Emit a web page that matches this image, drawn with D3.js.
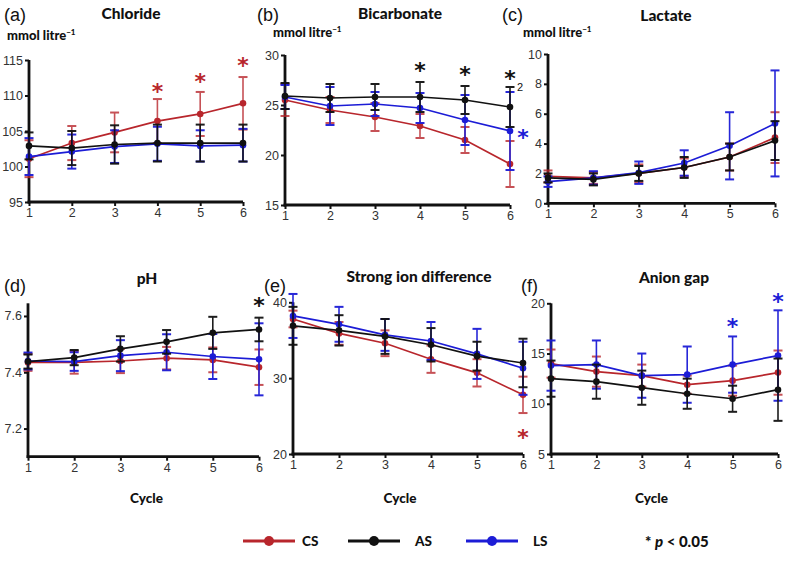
<!DOCTYPE html>
<html><head><meta charset="utf-8">
<script src="https://cdn.jsdelivr.net/npm/d3@7"></script>
<style>
html,body{margin:0;padding:0;background:#fff;}
svg{display:block;}
</style></head>
<body>
<svg id="chart" width="789" height="563"></svg>
<script>
// ---------- DATA ----------
const cycles = [1, 2, 3, 4, 5, 6];
const seriesNames = ["CS", "AS", "LS"];

const chlorideCS = [101.1, 103.3, 104.8, 106.4, 107.4, 108.9];
const chlorideCSsd = [2.6, 2.4, 2.8, 3.1, 3.1, 3.7];
const chlorideAS = [102.9, 102.6, 103.1, 103.3, 103.3, 103.3];
const chlorideASsd = [1.9, 2.4, 2.7, 2.6, 2.6, 2.6];
const chlorideLS = [101.4, 102.1, 102.8, 103.2, 102.9, 103.0];
const chlorideLSsd = [2.6, 2.4, 2.3, 2.4, 2.2, 2.3];

const bicarbCS = [25.5, 24.5, 23.8, 22.9, 21.5, 19.1];
const bicarbCSsd = [1.6, 1.3, 1.4, 1.2, 1.3, 2.3];
const bicarbAS = [25.9, 25.7, 25.8, 25.8, 25.5, 24.8];
const bicarbASsd = [1.3, 1.4, 1.3, 1.5, 1.4, 2.0];
const bicarbLS = [25.8, 24.9, 25.1, 24.7, 23.5, 22.4];
const bicarbLSsd = [1.2, 1.9, 1.2, 1.5, 2.5, 3.9];

const lactateCS = [1.8, 1.7, 2.0, 2.4, 3.1, 4.4];
const lactateCSsd = [0.4, 0.4, 0.6, 0.6, 0.9, 1.7];
const lactateAS = [1.7, 1.6, 2.0, 2.4, 3.1, 4.2];
const lactateASsd = [0.3, 0.4, 0.5, 0.7, 0.9, 1.3];
const lactateLS = [1.45, 1.7, 2.05, 2.7, 3.85, 5.35];
const lactateLSsd = [0.35, 0.45, 0.75, 0.85, 2.25, 3.55];

const phCS = [7.435, 7.435, 7.44, 7.45, 7.444, 7.418];
const phCSsd = [0.03, 0.04, 0.043, 0.04, 0.044, 0.063];
const phAS = [7.438, 7.452, 7.483, 7.508, 7.54, 7.552];
const phASsd = [0.025, 0.027, 0.045, 0.042, 0.057, 0.042];
const phLS = [7.44, 7.438, 7.459, 7.471, 7.456, 7.446];
const phLSsd = [0.03, 0.033, 0.055, 0.064, 0.08, 0.128];

const sidCS = [37.8, 35.9, 34.6, 32.5, 30.7, 27.8];
const sidCSsd = [1.1, 1.5, 1.7, 1.8, 1.8, 2.4];
const sidAS = [36.9, 36.3, 35.5, 34.4, 32.9, 32.0];
const sidASsd = [2.5, 2.0, 2.3, 2.2, 1.9, 3.2];
const sidLS = [38.2, 37.1, 35.7, 34.9, 33.2, 31.3];
const sidLSsd = [2.9, 2.3, 2.1, 2.5, 3.3, 3.5];

const agapCS = [14.0, 13.2, 12.8, 11.9, 12.3, 13.1];
const agapCSsd = [1.4, 1.5, 1.1, 0.9, 1.5, 2.2];
const agapAS = [12.5, 12.2, 11.6, 11.0, 10.5, 11.4];
const agapASsd = [1.8, 1.7, 1.7, 1.5, 1.3, 3.1];
const agapLS = [13.8, 13.9, 12.8, 12.9, 13.9, 14.8];
const agapLSsd = [2.5, 2.4, 2.2, 2.8, 2.8, 4.5];

const chlorideTicks = [95, 100, 105, 110, 115];
const bicarbTicks = [15, 20, 25, 30];
const lactateTicks = [0, 2, 4, 6, 8, 10];
const phTicks = [7.2, 7.4, 7.6];
const sidTicks = [20, 30, 40];
const agapTicks = [5, 10, 15, 20];

// significance markers: [cycle, value, series]
const chlorideStars = [[4, 110.9, "CS"], [5, 112.3, "CS"], [6, 114.6, "CS"]];
const bicarbStars = [[4, 28.7, "AS"], [5, 28.3, "AS"], [6, 27.9, "AS"], [6.29, 22.0, "LS"]];
const lactateStars = [];
const phStars = [[6, 7.645, "AS"]];
const sidStars = [[6, 22.5, "CS"]];
const agapStars = [[5, 17.9, "LS"], [6, 20.4, "LS"]];

// ---------- STYLE ----------
const colors = { CS: "#b8262c", AS: "#111111", LS: "#1c1cd6" };
const numFont = "'Liberation Sans Narrow','Arial Narrow','Liberation Sans',Arial,sans-serif";
const boldFont = "Lato,'Open Sans','Liberation Sans',sans-serif";
const plainFont = "'Liberation Sans',Arial,sans-serif";

const panels = [
  { letter: "(a)", title: "Chloride", unit: true, lx: 4, ly: 21, tx: 131, ty: 19, ux: 7, uy: 40,
    x: [29, 243], y: [202, 60], dom: [95, 115], ticks: chlorideTicks, stars: chlorideStars,
    s: { CS: [chlorideCS, chlorideCSsd], AS: [chlorideAS, chlorideASsd], LS: [chlorideLS, chlorideLSsd] } },
  { letter: "(b)", title: "Bicarbonate", unit: true, lx: 257, ly: 21, tx: 400, ty: 19, ux: 273, uy: 37,
    x: [285, 510], y: [205, 55], dom: [15, 30], ticks: bicarbTicks, stars: bicarbStars,
    s: { CS: [bicarbCS, bicarbCSsd], AS: [bicarbAS, bicarbASsd], LS: [bicarbLS, bicarbLSsd] } },
  { letter: "(c)", title: "Lactate", unit: true, lx: 502, ly: 21, tx: 666, ty: 21, ux: 523, uy: 37,
    x: [548, 775], y: [203.3, 54], dom: [0, 10], ticks: lactateTicks, stars: lactateStars,
    s: { CS: [lactateCS, lactateCSsd], AS: [lactateAS, lactateASsd], LS: [lactateLS, lactateLSsd] } },
  { letter: "(d)", title: "pH", unit: false, lx: 4, ly: 292, tx: 147, ty: 284, ux: 0, uy: 0,
    x: [28, 259], y: [456.7, 303.3], dom: [7.1, 7.645], ticks: phTicks, stars: phStars,
    s: { CS: [phCS, phCSsd], AS: [phAS, phASsd], LS: [phLS, phLSsd] } },
  { letter: "(e)", title: "Strong ion difference", unit: false, lx: 264, ly: 292, tx: 419, ty: 282, ux: 0, uy: 0,
    x: [293, 523], y: [454, 302.3], dom: [20, 40], ticks: sidTicks, stars: sidStars,
    s: { CS: [sidCS, sidCSsd], AS: [sidAS, sidASsd], LS: [sidLS, sidLSsd] } },
  { letter: "(f)", title: "Anion gap", unit: false, lx: 521, ly: 292, tx: 674, ty: 283, ux: 0, uy: 0,
    x: [551, 778], y: [454, 303.3], dom: [5, 20], ticks: agapTicks, stars: agapStars,
    s: { CS: [agapCS, agapCSsd], AS: [agapAS, agapASsd], LS: [agapLS, agapLSsd] } }
];

const svg = d3.select("#chart");
const drawOrder = ["CS", "LS", "AS"];

panels.forEach(p => {
  const g = svg.append("g");
  const x = d3.scaleLinear().domain([1, 6]).range(p.x);
  const y = d3.scaleLinear().domain(p.dom).range(p.y);

  // texts
  g.append("text").attr("x", p.lx).attr("y", p.ly).text(p.letter)
    .attr("font-family", plainFont).attr("font-size", 18).attr("fill", "#111");
  g.append("text").attr("x", p.tx).attr("y", p.ty).attr("text-anchor", "middle").text(p.title)
    .attr("font-family", boldFont).attr("font-weight", 900).attr("font-size", 15.5).attr("fill", "#111");
  if (p.unit) {
    const t = g.append("text").attr("x", p.ux).attr("y", p.uy)
      .attr("font-family", boldFont).attr("font-weight", 900).attr("font-size", 13).attr("fill", "#111");
    t.append("tspan").text("mmol litre");
    t.append("tspan").text("−1").attr("font-size", 8).attr("dy", -5);
  }

  // axes
  const yAxis = d3.axisLeft(y).tickValues(p.ticks).tickSize(4).tickPadding(2)
    .tickFormat(d => (p.dom[0] > 7 && p.dom[1] < 8) ? d3.format(".1f")(d) : d3.format("d")(d));
  const ya = g.append("g").attr("transform", `translate(${p.x[0]},0)`).call(yAxis);
  const xAxis = d3.axisBottom(x).tickValues(cycles).tickSize(4).tickPadding(2).tickFormat(d3.format("d"));
  const xa = g.append("g").attr("transform", `translate(0,${p.y[0]})`).call(xAxis);
  [ya, xa].forEach(a => {
    a.select(".domain").attr("stroke", "#111").attr("stroke-width", 2.8)
      .attr("d", a === ya ? `M0,${p.y[0] + 1.4}V${p.y[1]}` : `M${p.x[0] - 1.4},0H${p.x[1]}`);
    a.selectAll(".tick line").attr("stroke", "#111").attr("stroke-width", 2);
    a.selectAll(".tick text").attr("font-family", numFont).attr("font-size", 12.5).attr("fill", "#333");
  });

  // series
  drawOrder.forEach(name => {
    const [mean, sd] = p.s[name];
    const c = colors[name];
    const pts = cycles.map((cy, i) => ({ cy, m: mean[i], sd: sd[i] }));
    const sg = g.append("g");
    // error bars
    const eb = sg.selectAll(".eb").data(pts).enter().append("g")
      .attr("stroke", c).attr("stroke-width", 1.6).attr("opacity", name === "CS" ? 0.8 : 0.95);
    eb.append("line").attr("x1", d => x(d.cy)).attr("x2", d => x(d.cy))
      .attr("y1", d => y(Math.max(p.dom[0], d.m - d.sd))).attr("y2", d => y(d.m + d.sd));
    eb.append("line").attr("x1", d => x(d.cy) - 4.5).attr("x2", d => x(d.cy) + 4.5)
      .attr("y1", d => y(d.m + d.sd)).attr("y2", d => y(d.m + d.sd)).attr("stroke-width", 2);
    eb.filter(d => d.m - d.sd > p.dom[0]).append("line")
      .attr("x1", d => x(d.cy) - 4.5).attr("x2", d => x(d.cy) + 4.5)
      .attr("y1", d => y(d.m - d.sd)).attr("y2", d => y(d.m - d.sd)).attr("stroke-width", 2);
    // line
    sg.append("path").datum(pts)
      .attr("d", d3.line().x(d => x(d.cy)).y(d => y(d.m)))
      .attr("fill", "none").attr("stroke", c).attr("stroke-width", 1.7);
    // dots
    sg.selectAll(".dot").data(pts).enter().append("circle")
      .attr("cx", d => x(d.cy)).attr("cy", d => y(d.m)).attr("r", 3.3).attr("fill", c);
  });

  // stars
  g.selectAll(".star").data(p.stars).enter().append("text")
    .attr("x", d => x(d[0])).attr("y", d => y(d[1]) + 10)
    .attr("text-anchor", "middle").text("*")
    .attr("font-family", "'DejaVu Sans',sans-serif").attr("font-size", 22).attr("font-weight", "bold")
    .attr("fill", d => colors[d[2]]);
  if (p.letter === "(b)") {
    g.append("text").attr("x", x(6) + 7).attr("y", y(27.9) + 15).text("2")
      .attr("font-family", plainFont).attr("font-size", 11).attr("fill", "#111");
  }

  // x-axis label for bottom row
  if (!p.unit) {
    g.append("text").attr("x", (p.x[0] + p.x[1]) / 2 + (p.letter === "(d)" ? 3 : p.letter === "(e)" ? -8 : -13))
      .attr("y", 503).attr("text-anchor", "middle").text("Cycle")
      .attr("font-family", boldFont).attr("font-weight", 900).attr("font-size", 13.5).attr("fill", "#111");
  }
});

// legend
const legendX = [243, 348, 466];
const lg = svg.append("g");
seriesNames.forEach((name, i) => {
  const x0 = legendX[i];
  lg.append("line").attr("x1", x0).attr("x2", x0 + 52).attr("y1", 541).attr("y2", 541)
    .attr("stroke", colors[name]).attr("stroke-width", 3);
  lg.append("circle").attr("cx", x0 + 26).attr("cy", 541).attr("r", 5).attr("fill", colors[name]);
  lg.append("text").attr("x", x0 + (i === 0 ? 59 : 67)).attr("y", 546).text(name)
    .attr("font-family", boldFont).attr("font-weight", 900).attr("font-size", 13.5).attr("fill", "#111");
});
const pt = lg.append("text").attr("x", 645).attr("y", 547)
  .attr("font-family", boldFont).attr("font-weight", 900).attr("font-size", 15).attr("fill", "#111");
pt.append("tspan").text("*  ");
pt.append("tspan").text("p").attr("font-style", "italic");
pt.append("tspan").text(" < 0.05");
</script>
</body></html>
